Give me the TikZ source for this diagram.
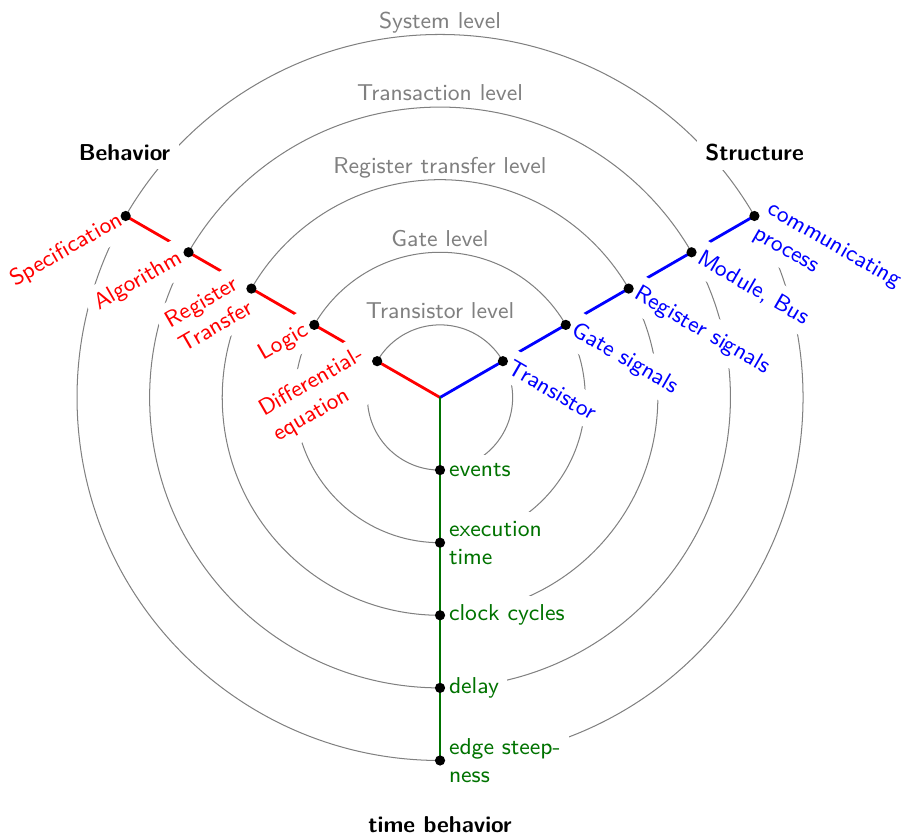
\documentclass[tikz,border=0pt]{standalone}
\begin{document}
\begin{tikzpicture}[font=\sffamily\small,
  ring/.style={gray, line width=0.4pt},
  axisline/.style={line width=1.1pt},
  dotmark/.style={circle, fill=black, inner sep=0pt, minimum size=4pt},
  behlab/.style={red, rotate=30, anchor=east, fill=white, align=left},
  strlab/.style={blue, rotate=-30, anchor=west, fill=white, align=left},
  timlab/.style={green!45!black, anchor=west, fill=white, align=left},
  levlab/.style={gray, anchor=base},
  viewlab/.style={font=\sffamily\small\bfseries, fill=white, anchor=base}]

\useasboundingbox (-6.061,-6.068) rectangle (6.377,5.475);

% centre and the points on the three axes
\coordinate (O) at (0,0);
\foreach \k in {1,...,5} {
  \coordinate (b\k) at (150:\k);
  \coordinate (s\k) at (30:\k);
  \coordinate (t\k) at (270:\k);
}

% abstraction levels
\foreach \k in {1,...,5}
  \draw[ring] (O) circle[radius=\k];

\node[levlab] (lev1) at (0,1.085) {Transistor level};
\node[levlab] (lev2) at (0,2.085) {Gate level};
\node[levlab] (lev3) at (0,3.085) {Register transfer level};
\node[levlab] (lev4) at (0,4.085) {Transaction level};
\node[levlab] (lev5) at (0,5.085) {System level};

% behaviour and structure axes
\draw[red, axisline] (O) -- (b5);
\draw[blue, axisline] (O) -- (s5);

% view names
\node[viewlab] (beh) at (-4.345,3.262) {Behavior};
\node[viewlab] (str) at (4.332,3.262) {Structure};
\node[viewlab] (tim) at (0,-5.985) {time behavior};

% behaviour domain
\node[behlab] (lb1) at (b1) {Differential-\\equation};
\node[behlab] (lb2) at (b2) {Logic};
\node[behlab] (lb3) at (b3) {Register\\Transfer};
\node[behlab] (lb4) at (b4) {Algorithm};
\node[behlab, inner xsep=2pt] (lb5) at (b5) {Specification};

% structure domain
\node[strlab] (ls1) at (s1) {Transistor};
\node[strlab] (ls2) at (s2) {Gate signals};
\node[strlab] (ls3) at (s3) {Register signals};
\node[strlab] (ls4) at (s4) {Module, Bus};
\node[strlab] (ls5) at (s5) {communicating\\process};

% timing domain
\node[timlab] (lt1) at (t1) {events};
\node[timlab] (lt2) at (t2) {execution\\time};
\node[timlab] (lt3) at (t3) {clock cycles};
\node[timlab] (lt4) at (t4) {delay};
\node[timlab] (lt5) at (t5) {edge steep-\\ness};

\draw[green!45!black, axisline] (O) -- (t5);

% level markers
\foreach \k in {1,...,5} {
  \node[dotmark] (bd\k) at (b\k) {};
  \node[dotmark] (sd\k) at (s\k) {};
  \node[dotmark] (td\k) at (t\k) {};
}
\end{tikzpicture}
\end{document}
